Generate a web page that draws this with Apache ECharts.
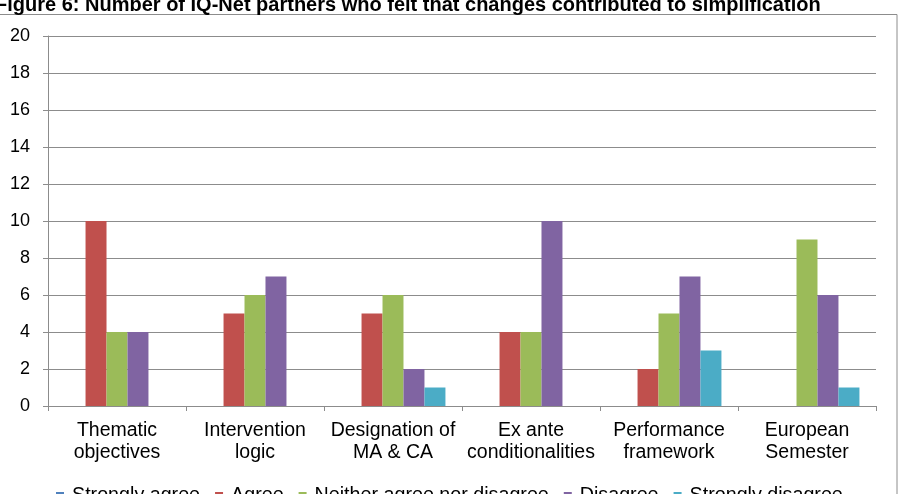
<!DOCTYPE html>
<html>
<head>
<meta charset="utf-8">
<script src="https://cdn.jsdelivr.net/npm/echarts@6/dist/echarts.min.js"></script>
<style>
  html, body { margin: 0; padding: 0; background: #fff; }
  #chart { width: 903px; height: 494px; }
</style>
</head>
<body>
<div id="chart"></div>
<script>
// data
const categories = [
  'Thematic\nobjectives',
  'Intervention\nlogic',
  'Designation of\nMA & CA',
  'Ex ante\nconditionalities',
  'Performance\nframework',
  'European\nSemester'
];
const stronglyAgree = [0, 0, 0, 0, 0, 0];
const agree = [10, 5, 5, 4, 2, 0];
const neither = [4, 6, 6, 4, 5, 9];
const disagree = [4, 7, 2, 10, 7, 6];
const stronglyDisagree = [0, 0, 1, 0, 3, 1];
const yTicks = [0, 2, 4, 6, 8, 10, 12, 14, 16, 18, 20];

const font = "'Liberation Sans', Arial, sans-serif";
const chart = echarts.init(document.getElementById('chart'));

const mkSeries = (name, data, color) => ({
  name, type: 'bar', data,
  barGap: 0, barCategoryGap: '24%',
  itemStyle: { color },
  animation: false
});

const option = {
  animation: false,
  title: {
    text: 'Figure 6: Number of IQ-Net partners who felt that changes contributed to simplification',
    left: -5, top: -5, padding: 0,
    textStyle: { fontFamily: font, fontSize: 20, fontWeight: 'bold', color: '#000' }
  },
  graphic: [{
    type: 'rect', silent: true, z: -1,
    shape: { x: -5, y: 14.5, width: 902, height: 520 },
    style: { fill: 'none', stroke: '#8c8c8c', lineWidth: 1 }
  }],
  legend: {
    bottom: -12, left: 56, padding: 0,
    itemWidth: 8, itemHeight: 8, itemGap: 15,
    icon: 'rect',
    textStyle: { fontFamily: font, fontSize: 19.7, color: '#000', padding: [0, 0, 0, 3] },
    data: ['Strongly agree', 'Agree', 'Neither agree nor disagree', 'Disagree', 'Strongly disagree']
  },
  grid: { left: 48, right: 27, top: 36, bottom: 88, containLabel: false },
  xAxis: {
    type: 'category', data: categories,
    axisLine: { lineStyle: { color: '#8c8c8c' } },
    axisTick: { show: true, length: 5, lineStyle: { color: '#8c8c8c' } },
    axisLabel: {
      interval: 0, margin: 14, lineHeight: 22,
      fontFamily: font, fontSize: 19.5, color: '#000'
    }
  },
  yAxis: {
    type: 'value', min: yTicks[0], max: yTicks[yTicks.length - 1], interval: 2,
    axisLine: { show: true, lineStyle: { color: '#8c8c8c' } },
    axisTick: { show: true, length: 5, lineStyle: { color: '#8c8c8c' } },
    splitLine: { lineStyle: { color: '#8c8c8c', width: 1 } },
    axisLabel: { margin: 18, fontFamily: font, fontSize: 18, color: '#000' }
  },
  series: [
    mkSeries('Strongly agree', stronglyAgree, '#4f81bd'),
    mkSeries('Agree', agree, '#c0504d'),
    mkSeries('Neither agree nor disagree', neither, '#9bbb59'),
    mkSeries('Disagree', disagree, '#8064a2'),
    mkSeries('Strongly disagree', stronglyDisagree, '#4bacc6')
  ]
};

chart.setOption(option);
</script>
</body>
</html>
